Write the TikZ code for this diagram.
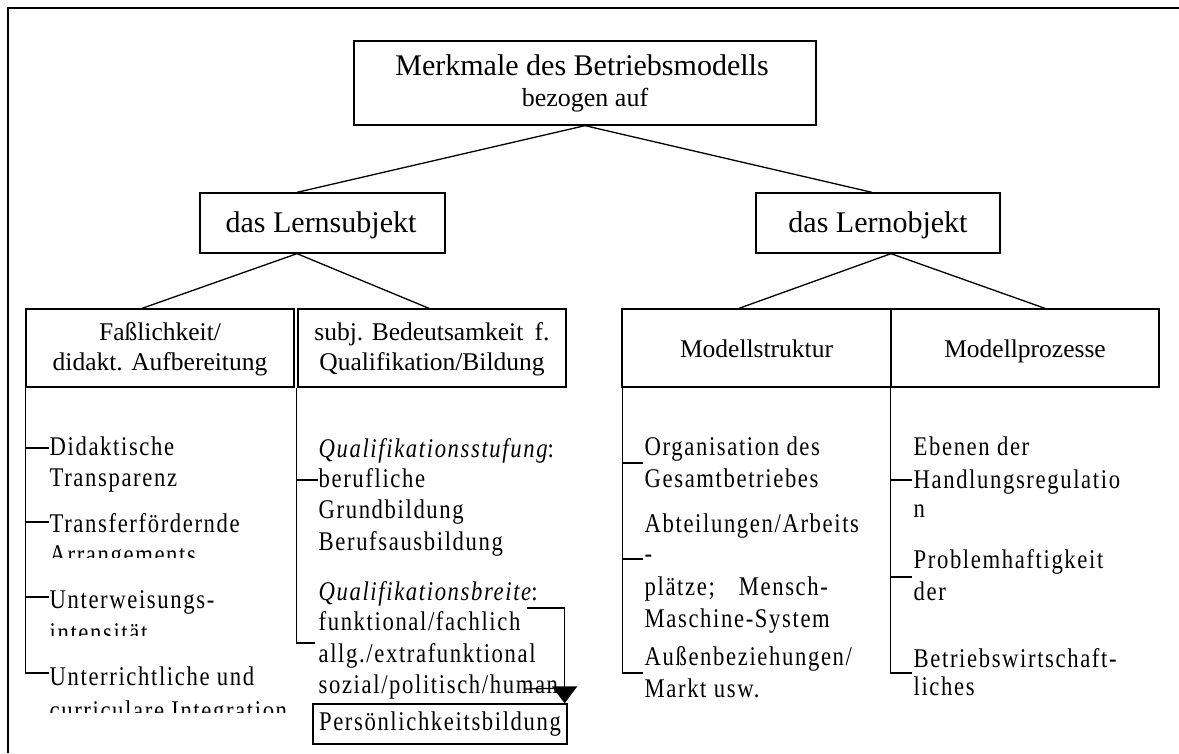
\documentclass[tikz,border=0pt]{standalone}
\usepackage{fontspec}
\setmainfont{Liberation Serif}
\newfontfamily\bodyf[LetterSpace=6,FakeStretch=0.84]{Liberation Serif}
\usetikzlibrary{arrows.meta}
\begin{document}
\begin{tikzpicture}[x=1pt,y=-1pt,
  line width=1.3pt,
  bx/.style={draw,line width=1.3pt,inner sep=0pt},
  tbig/.style={inner sep=0pt,anchor=base,font=\fontsize{30}{36}\selectfont},
  tsub/.style={inner sep=0pt,anchor=base,font=\fontsize{26}{31}\selectfont},
  tlab/.style={inner sep=0pt,anchor=base,font=\fontsize{25.5}{31}\selectfont},
  li/.style={inner sep=0pt,anchor=base west,font=\bodyf\fontsize{27}{31}\selectfont},
  conn/.style={line width=1.3pt},
  arr/.style={line width=1.3pt,-{Triangle[width=25pt,length=17pt]}}]
\useasboundingbox (0,0) rectangle (1179,753);
% outer frame
\draw[line width=1.9pt] (1179,8) -- (8,8) -- (8,753);

% top box
\node[bx,minimum width=462pt,minimum height=84pt] (top) at (585,83) {};
\node[tbig] (topt) at (582,75) {Merkmale des Betriebsmodells};
\node[tsub] (tops) at (585,106) {bezogen auf};

% level 2
\node[bx,minimum width=245pt,minimum height=60pt] (ls) at (322.5,223) {};
\node[tbig] (lst) at (321,232) {das Lernsubjekt};
\node[bx,minimum width=244pt,minimum height=60pt] (lo) at (878,223) {};
\node[tbig] (lot) at (878,232) {das Lernobjekt};

% level 3
\node[bx,minimum width=268pt,minimum height=78pt] (fa) at (160,348) {};
\node[tlab] (fa1) at (160,340) {Faßlichkeit/};
\node[tlab] (fa2) at (160,370) {didakt. Aufbereitung};
\node[bx,minimum width=268pt,minimum height=78pt] (sb) at (432,348) {};
\node[tlab] (sb1) at (432,340) {subj. Bedeutsamkeit\hspace{5pt} f.};
\node[tlab] (sb2) at (432,370) {Qualifikation/Bildung};
\node[bx,minimum width=269pt,minimum height=78pt] (ms) at (756.5,348) {};
\node[tlab] (mst) at (756.5,357) {Modellstruktur};
\node[bx,minimum width=268pt,minimum height=78pt] (mp) at (1025,348) {};
\node[tlab] (mpt) at (1025,357) {Modellprozesse};

% connectors
\draw[conn] (top.south) -- ([xshift=-25.5pt]ls.north);
\draw[conn] (top.south) -- ([xshift=-6pt]lo.north);
\draw[conn] ([xshift=-25.5pt]ls.south) -- ([xshift=-18pt]fa.north);
\draw[conn] ([xshift=-25.5pt]ls.south) -- ([xshift=-3pt]sb.north);
\draw[conn] ([xshift=13pt]lo.south) -- ([xshift=-17.5pt]ms.north);
\draw[conn] ([xshift=13pt]lo.south) -- ([xshift=20pt]mp.north);

% left list
\node[li] (d1a) at (49,455) {Didaktische};
\node[li] (d1b) at (49,486) {Transparenz};
\node[li] (d2a) at (49,532) {Transferfördernde};
\begin{scope}
\clip (30,520) rectangle (290,557);
\node[li] (d2b) at (49,563) {Arrangements};
\end{scope}
\node[li] (d3a) at (49,608) {Unterweisungs-};
\begin{scope}
\clip (30,615) rectangle (290,635);
\node[li] (d3b) at (49,641) {intensität};
\end{scope}
\node[li] (d4a) at (49,685) {Unterrichtliche und};
\begin{scope}
\clip (30,690) rectangle (290,712);
\node[li] (d4b) at (49,719) {curriculare Integration};
\end{scope}
\coordinate (td1) at ([yshift=7pt]d1a.base west);
\coordinate (td2) at ([yshift=10pt]d2a.base west);
\coordinate (td3) at ([yshift=11pt]d3a.base west);
\coordinate (td4) at ([yshift=12pt]d4a.base west);
\draw[conn] (fa.south west) -- (fa.south west |- td4) -- (td4);
\draw[conn] (fa.south west |- td1) -- (td1);
\draw[conn] (fa.south west |- td2) -- (td2);
\draw[conn] (fa.south west |- td3) -- (td3);

% subj list
\node[li] (q1) at (318,457) {\itshape Qualifikationsstufung\upshape:};
\node[li] (q2) at (318,487) {berufliche};
\node[li] (q3) at (318,518) {Grundbildung};
\node[li] (q4) at (318,550) {Berufsausbildung};
\node[li] (q5) at (318,600) {\itshape Qualifikationsbreite\upshape:};
\node[li] (q6) at (318,630) {funktional/fachlich};
\node[li] (q7) at (318,662) {allg./extrafunktional};
\node[li] (q8) at (318,693) {sozial/politisch/human};
\coordinate (tq2) at ([yshift=7pt]q2.base west);
\coordinate (tq7) at ([yshift=19pt,xshift=-3pt]q7.base west);
\draw[conn] ([xshift=-1pt]sb.south west) -- ([xshift=-1pt]sb.south west |- tq7) -- (tq7);
\draw[conn] ([xshift=-1pt]sb.south west |- tq2) -- (tq2);

\node[draw,line width=1.3pt,inner sep=0pt,minimum width=254pt,minimum height=40pt,
      font=\bodyf\fontsize{27}{31}\selectfont] (pb) at (440,724) {Persönlichkeitsbildung};
\coordinate (as) at (527,608);
\draw[arr] (as) -| ([xshift=-3pt]pb.north east);
\coordinate (st) at (525,689);
\draw[conn] (st) -- ([xshift=-14pt,yshift=15pt]pb.north east);

% Modellstruktur list
\node[li] (m1) at (644,455) {Organisation des};
\node[li] (m2) at (644,487) {Gesamtbetriebes};
\node[li] (m3) at (644,532) {Abteilungen/Arbeits};
\node[li] (m4) at (644,562) {-};
\node[li] (m5) at (644,595) {plätze;\hspace{24pt}Mensch-};
\node[li] (m6) at (644,627) {Maschine-System};
\node[li] (m7) at (644,665) {Außenbeziehungen/};
\node[li] (m8) at (644,697) {Markt usw.};
\coordinate (tm1) at ([yshift=-8pt,xshift=-1pt]m1.base west);
\coordinate (tm4) at ([yshift=3pt,xshift=-1pt]m4.base west);
\coordinate (tm7) at ([yshift=-8pt,xshift=-1pt]m7.base west);
\draw[conn] ([xshift=1pt]ms.south west) -- ([xshift=1pt]ms.south west |- tm7) -- (tm7);
\draw[conn] ([xshift=1pt]ms.south west |- tm1) -- (tm1);
\draw[conn] ([xshift=1pt]ms.south west |- tm4) -- (tm4);

% Modellprozesse list
\node[li] (p1) at (913,455) {Ebenen der};
\node[li] (p2) at (913,488) {Handlungsregulatio};
\node[li] (p3) at (913,517) {n};
\node[li] (p4) at (913,568) {Problemhaftigkeit};
\node[li] (p5) at (913,600) {der};
\node[li] (p6) at (913,667) {Betriebswirtschaft-};
\node[li] (p7) at (913,695) {liches};
\coordinate (tp2) at ([yshift=8pt,xshift=-1pt]p2.base west);
\coordinate (tp4) at ([yshift=-9pt,xshift=-1pt]p4.base west);
\coordinate (tp6) at ([yshift=-6pt,xshift=-1pt]p6.base west);
\draw[conn] (mp.south west) -- (mp.south west |- tp6) -- (tp6);
\draw[conn] (mp.south west |- tp2) -- (tp2);
\draw[conn] (mp.south west |- tp4) -- (tp4);
\end{tikzpicture}
\end{document}
